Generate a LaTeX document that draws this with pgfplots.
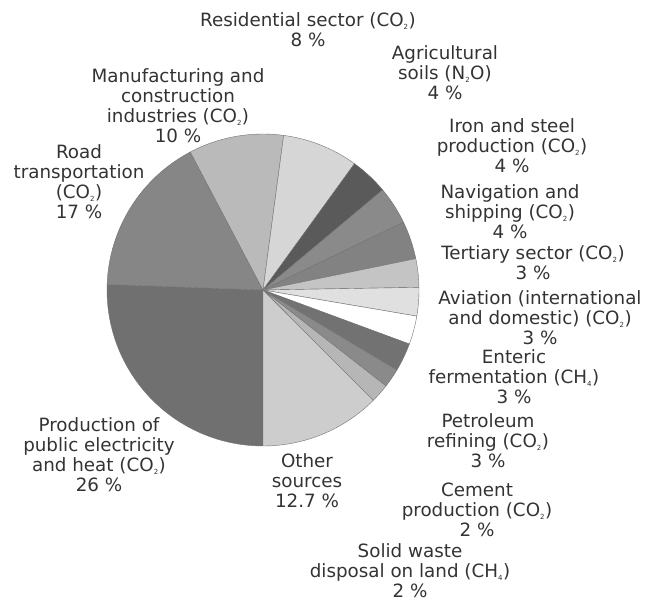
\documentclass[border=0pt]{standalone}
\usepackage{pgfplots}
\pgfplotsset{compat=1.18}
\usepackage{pgfplotstable}
\usepackage{fontspec}
\setmainfont{DejaVu Sans}

% share (%) and grey level (0-255) of each slice, clockwise from 6 o'clock
\pgfplotstableread{
name value g
prod 26   112
road 17   134
manu 10   186
resi 8    214
agri 4    90
iron 4    138
navi 4    130
tert 3    196
avia 3    224
ente 3    255
petr 3    114
ceme 2    138
soli 2    182
othe 12.7 205
}\pie

\newcommand{\lbfont}{\fontsize{18.3}{20}\selectfont}
\newcommand{\sub}[1]{\textsubscript{\scriptsize #1}}
\tikzset{lbl/.style={align=center, font=\lbfont, inner sep=0pt, text=black!80}}

\begin{document}
\begin{tikzpicture}
\begin{axis}[
  x=1pt, y=1pt,
  xmin=0, xmax=646, ymin=0, ymax=603,
  scale only axis,
  hide axis,
  clip=false,
]
\path (axis cs:0,0) rectangle (axis cs:646,603);

\pgfplotsextra{
  % total of the shares (they do not add up to exactly 100)
  \global\def\tot{0}
  \foreach \i in {0,...,13}{
    \pgfplotstablegetelem{\i}{value}\of\pie
    \pgfmathsetmacro\t{\tot+\pgfplotsretval}
    \xdef\tot{\t}
  }
  \global\def\curang{270}
  \foreach \i in {0,...,13}{
    \pgfplotstablegetelem{\i}{value}\of\pie \let\v\pgfplotsretval
    \pgfplotstablegetelem{\i}{g}\of\pie \let\g\pgfplotsretval
    \pgfmathsetmacro\endang{\curang-\v*360/\tot}
    \definecolor{slice}{RGB}{\g,\g,\g}
    \filldraw[fill=slice, draw=black!55, line width=0.4pt]
      (axis cs:263,313) -- ++(\curang:156pt)
      arc[start angle=\curang, end angle=\endang, radius=156pt] -- cycle;
    \xdef\curang{\endang}
  }
}

\node[lbl] at (axis cs:308,573) {Residential sector (CO\sub{2})\\8 \%};
\node[lbl] at (axis cs:445,530) {Agricultural\\soils (N\sub{2}O)\\4 \%};
\node[lbl] at (axis cs:178,497) {Manufacturing and\\construction\\industries (CO\sub{2})\\10 \%};
\node[lbl] at (axis cs:79,421) {Road\\transportation\\(CO\sub{2})\\17 \%};
\node[lbl] at (axis cs:512,457) {Iron and steel\\production (CO\sub{2})\\4 \%};
\node[lbl] at (axis cs:510,391) {Navigation and\\shipping (CO\sub{2})\\4 \%};
\node[lbl] at (axis cs:533,340) {Tertiary sector (CO\sub{2})\\3 \%};
\node[lbl] at (axis cs:540,285) {Aviation (international\\and domestic) (CO\sub{2})\\3 \%};
\node[lbl] at (axis cs:514,226) {Enteric\\fermentation (CH\sub{4})\\3 \%};
\node[lbl] at (axis cs:488,162) {Petroleum\\refining (CO\sub{2})\\3 \%};
\node[lbl] at (axis cs:477,93) {Cement\\production (CO\sub{2})\\2 \%};
\node[lbl] at (axis cs:410,32) {Solid waste\\disposal on land (CH\sub{4})\\2 \%};
\node[lbl] at (axis cs:99,148) {Production of\\public electricity\\and heat (CO\sub{2})\\26 \%};
\node[lbl] at (axis cs:307,122) {Other\\sources\\12.7 \%};
\end{axis}
\end{tikzpicture}
\end{document}
